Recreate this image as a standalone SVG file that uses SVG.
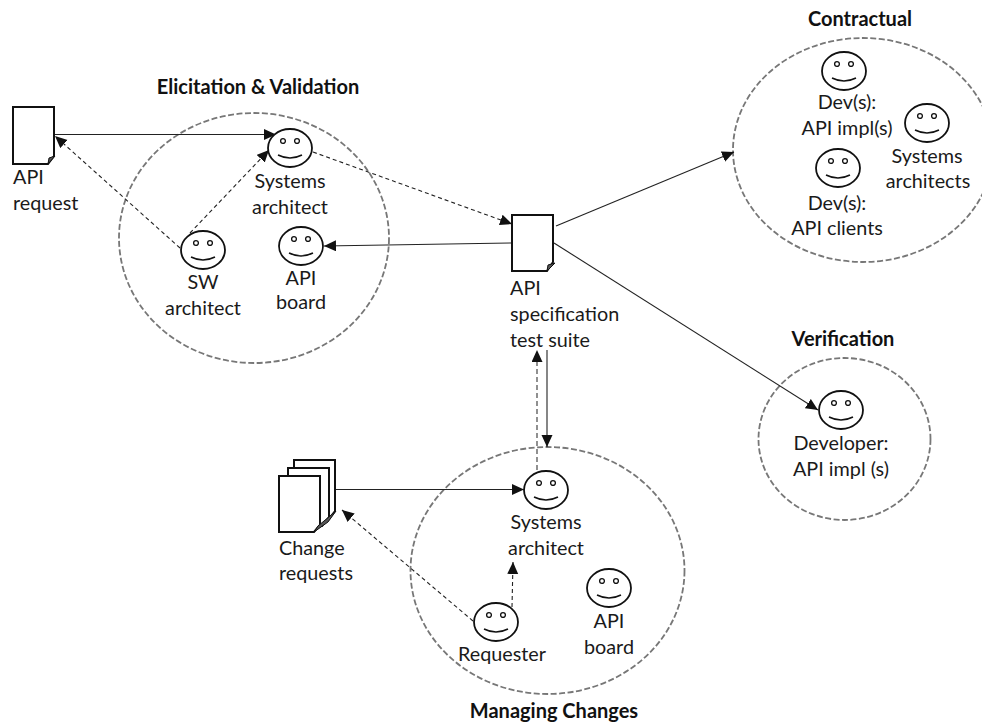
<svg xmlns="http://www.w3.org/2000/svg" xmlns:xlink="http://www.w3.org/1999/xlink" width="982" height="724" viewBox="0 0 982 724">
<style>
text{font-family:"Lato","Carlito","Open Sans",sans-serif;font-size:19.8px;fill:#1a1a1a;text-anchor:middle}
text.l{text-anchor:start}
text.t{font-weight:700;font-size:20px;fill:#111}
.grp{fill:none;stroke:#777;stroke-width:1.8;stroke-dasharray:6 2.500}
.face{fill:#fff;stroke:#111;stroke-width:1.8}
.eye{fill:#fff;stroke:#111;stroke-width:1.3}
.smile{fill:none;stroke:#111;stroke-width:1.5}
.doc{fill:#fff;stroke:#111;stroke-width:2}
.fold{fill:#555;stroke:#111;stroke-width:1}
.s{fill:none;stroke:#222;stroke-width:1.1}
.d{fill:none;stroke:#222;stroke-width:1.1;stroke-dasharray:4 3}
.dg{fill:none;stroke:#555;stroke-width:1.3;stroke-dasharray:5 3}
</style>
<defs>
<marker id="a" markerWidth="13" markerHeight="12" refX="12" refY="5.500" orient="auto" markerUnits="userSpaceOnUse"><path d="M0 0L12 5.500L0 11z" fill="#111"/></marker>
<g id="smiley"><ellipse class="face" cx="0" cy="0" rx="22" ry="19"/><circle class="eye" cx="-7" cy="-7" r="2.4"/><circle class="eye" cx="7" cy="-7" r="2.4"/><path class="smile" d="M-12 7Q0 13 12 7"/></g>
</defs>

<g id="regions">
<ellipse class="grp" cx="254" cy="238" rx="135" ry="125"/>
<ellipse class="grp" cx="863" cy="150" rx="130" ry="112"/>
<ellipse class="grp" cx="844.500" cy="439" rx="86" ry="81"/>
<ellipse class="grp" cx="547.500" cy="570.500" rx="137" ry="123.500"/>
</g>

<g id="connectors">
<path class="s" d="M54 134.500H276" marker-end="url(#a)"/>
<path class="d" d="M180 248L55 136" marker-end="url(#a)"/>
<path class="d" d="M190 233L269 150" marker-end="url(#a)"/>
<path class="d" d="M313 152L512 224" marker-end="url(#a)"/>
<path class="s" d="M512 243L324 246" marker-end="url(#a)"/>
<path class="s" d="M556 226L734 152" marker-end="url(#a)"/>
<path class="s" d="M554 243L818 410" marker-end="url(#a)"/>
<path class="s" d="M547 350V447" marker-end="url(#a)"/>
<path class="dg" d="M537 470V350" marker-end="url(#a)"/>
<path class="s" d="M336 489.500H524" marker-end="url(#a)"/>
<path class="d" d="M473 621L342 510" marker-end="url(#a)"/>
<path class="d" d="M512 607L513 562" marker-end="url(#a)"/>
</g>

<g id="api-request">
<path class="doc" d="M13 107H54V156L48 164H13z"/><path class="fold" d="M48 164L49 158L55 156z"/>
<text class="l" x="13" y="184">API</text><text class="l" x="13" y="210">request</text>
</g>

<g id="api-spec">
<path class="doc" d="M512 215H553V262L547 271H512z"/><path class="fold" d="M547 271L548 265L555 263z"/>
<text class="l" x="510" y="295">API</text><text class="l" x="510" y="321">specification</text><text class="l" x="510" y="347">test suite</text>
</g>

<g id="change-requests">
<path class="doc" d="M294 460H335V511L328 520H294z"/>
<path class="doc" d="M288 468H329V517L322 526H288z"/>
<path class="doc" d="M279 476H320V525L314 532H279z"/><path class="fold" d="M314 532L318 526L336 511L328 522z"/>
<text class="l" x="279" y="555">Change</text><text class="l" x="279" y="580">requests</text>
</g>

<g id="elicitation-title"><text class="t" x="258" y="94">Elicitation &amp; Validation</text></g>
<g id="contractual-title"><text class="t" x="860" y="26">Contractual</text></g>
<g id="verification-title"><text class="t" x="843" y="346">Verification</text></g>
<g id="managing-title"><text class="t" x="554" y="718">Managing Changes</text></g>

<g id="systems-architect-1"><use href="#smiley" xlink:href="#smiley" x="290" y="148"/><text x="290" y="188">Systems</text><text x="290" y="214">architect</text></g>
<g id="sw-architect"><use href="#smiley" xlink:href="#smiley" x="203" y="250"/><text x="203" y="289">SW</text><text x="203" y="315">architect</text></g>
<g id="api-board-1"><use href="#smiley" xlink:href="#smiley" x="301" y="246"/><text x="301" y="285">API</text><text x="301" y="309">board</text></g>

<g id="dev-impl"><use href="#smiley" xlink:href="#smiley" x="844" y="71"/><text x="847" y="109">Dev(s):</text><text x="847" y="135">API impl(s)</text></g>
<g id="systems-architects"><use href="#smiley" xlink:href="#smiley" x="927" y="123"/><text x="927" y="163">Systems</text><text x="928" y="188">architects</text></g>
<g id="dev-clients"><use href="#smiley" xlink:href="#smiley" x="838" y="168"/><text x="837" y="210">Dev(s):</text><text x="837" y="235">API clients</text></g>

<g id="developer"><use href="#smiley" xlink:href="#smiley" x="841" y="410"/><text x="841" y="450">Developer:</text><text x="841" y="476">API impl (s)</text></g>

<g id="systems-architect-2"><use href="#smiley" xlink:href="#smiley" x="546" y="490"/><text x="546" y="529">Systems</text><text x="546" y="555">architect</text></g>
<g id="api-board-2"><use href="#smiley" xlink:href="#smiley" x="609" y="588"/><text x="609" y="628">API</text><text x="609" y="654">board</text></g>
<g id="requester"><use href="#smiley" xlink:href="#smiley" x="496" y="622"/><text x="502" y="661">Requester</text></g>
</svg>
